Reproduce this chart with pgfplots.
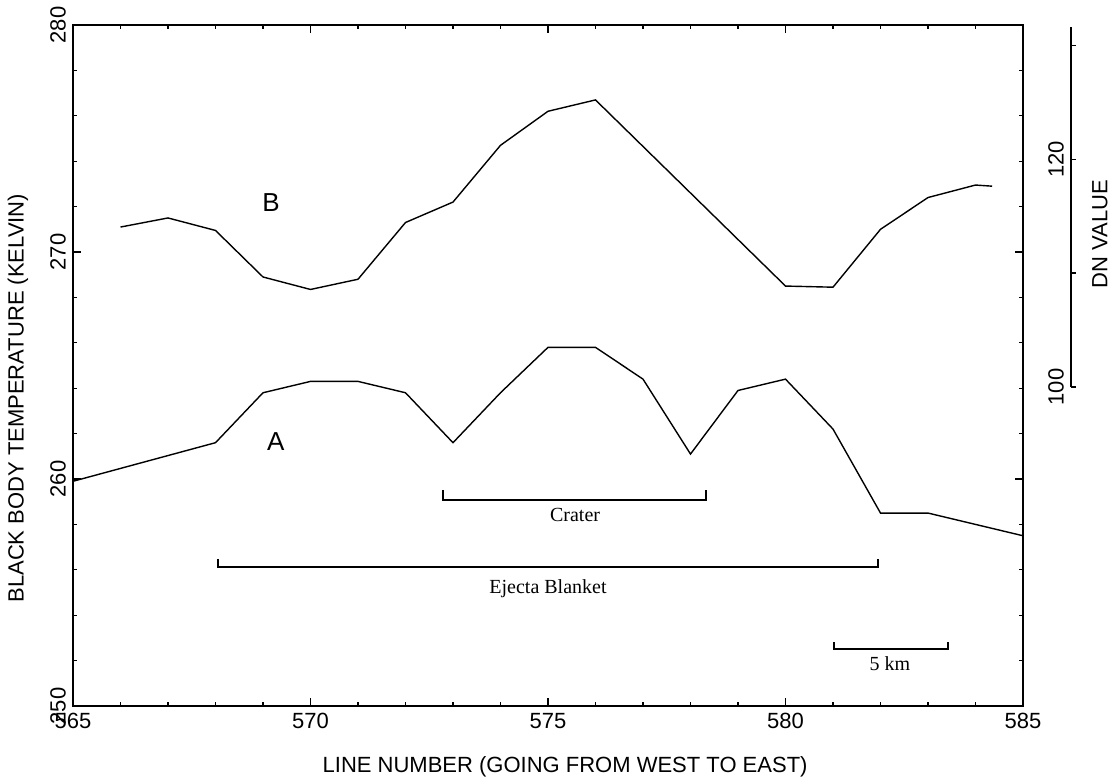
\documentclass[border=0pt]{standalone}
\usepackage{fontspec}
\setmainfont{Liberation Sans}
\newfontfamily\seriffont{Liberation Serif}
\usepackage{pgfplots}
\pgfplotsset{compat=1.18}
\begin{document}
\begin{tikzpicture}
\path (-36.5pt,-37pt) rectangle (520.5pt,352pt);
\begin{axis}[
  name=main, at={(0pt,0pt)}, anchor=south west,
  scale only axis, width=475pt, height=340.5pt,
  xmin=565, xmax=585, ymin=250, ymax=280,
  xtick={565,570,...,585}, ytick={250,260,270,280},
  minor x tick num=4, minor y tick num=4,
  tick align=inside,
  major tick length=4pt, minor tick length=2pt,
  axis line style={line width=0.7pt},
  every tick/.style={black, line width=0.6pt},
  /pgf/number format/assume math mode=true,
  ticklabel style={font=\fontsize{11}{13}\selectfont},
  yticklabel style={rotate=90, anchor=south},
  xlabel={LINE NUMBER (GOING FROM WEST TO EAST)},
  ylabel={BLACK BODY TEMPERATURE (KELVIN)},
  label style={font=\fontsize{11}{13}\selectfont},
  xlabel style={at={(axis description cs:0.518,0)}, anchor=center, yshift=-30.5pt, inner sep=1pt},
  ylabel style={at={(axis description cs:-0.058,0.452)}, anchor=center, inner sep=1pt},
  clip=false,
]
% Curve B
\addplot[black, line width=0.7pt] coordinates {
 (566,271.1) (567,271.5) (568,270.95) (569,268.9) (570,268.35) (571,268.8)
 (572,271.3) (573,272.2) (574,274.7) (575,276.2) (576,276.7)
 (580,268.5) (581,268.45) (582,271.0) (583,272.4) (584,272.95) (584.35,272.9)
};
% Curve A
\addplot[black, line width=0.7pt] coordinates {
 (565,259.9) (568,261.6) (569,263.8) (570,264.3) (571,264.3) (572,263.8)
 (573,261.6) (574,263.8) (575,265.8) (576,265.8) (577,264.4) (578,261.1)
 (579,263.9) (580,264.4) (581,262.2) (582,258.5) (583,258.5) (585,257.5)
};
% Crater bracket
\addplot[black, line width=1.1pt] coordinates {(572.79,259.52) (572.79,259.07) (578.33,259.07) (578.33,259.52)};
% Ejecta blanket bracket
\addplot[black, line width=1.1pt] coordinates {(568.05,256.48) (568.05,256.12) (581.95,256.12) (581.95,256.48)};
% 5 km scale
\addplot[black, line width=1.1pt] coordinates {(581.02,252.8) (581.02,252.51) (583.42,252.51) (583.42,252.8)};
\node[font=\fontsize{13}{15}\selectfont] at (axis cs:569.17,272.16) {B};
\node[font=\fontsize{13}{15}\selectfont] at (axis cs:569.27,261.63) {A};
\node[font=\seriffont\fontsize{10}{12}\selectfont] at (axis cs:575.57,258.4) {Crater};
\node[font=\seriffont\fontsize{10}{12}\selectfont] at (axis cs:575.0,255.15) {Ejecta Blanket};
\node[font=\seriffont\fontsize{10}{12}\selectfont] at (axis cs:582.2,251.85) {5 km};
\end{axis}
\begin{axis}[
  at={(499pt,159.5pt)}, anchor=south west,
  scale only axis, width=20pt, height=180pt,
  xmin=0, xmax=1, ymin=100, ymax=131.6,
  axis y line*=left, axis x line=none,
  ytick={100,110,120,130}, yticklabels={100,,120,},
  tick align=inside, major tick length=2.5pt,
  axis line style={line width=0.7pt},
  every tick/.style={black, line width=0.6pt},
  /pgf/number format/assume math mode=true,
  ticklabel style={font=\fontsize{11}{13}\selectfont},
  yticklabel style={rotate=90, anchor=south},
  ylabel={DN VALUE},
  ylabel style={font=\fontsize{11}{13}\selectfont, at={(axis description cs:0.725,0.425)}, anchor=center, inner sep=1pt},
]
\addplot[draw=none] coordinates {(0,100)};
\end{axis}
\end{tikzpicture}
\end{document}
